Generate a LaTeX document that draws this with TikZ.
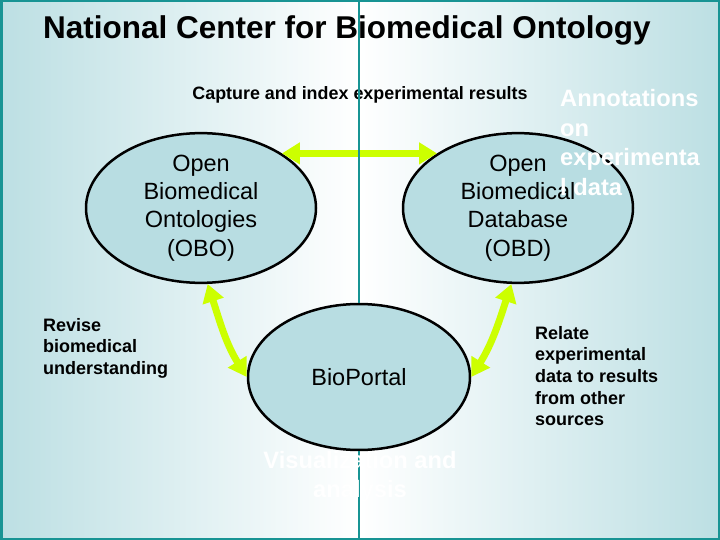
\documentclass[tikz,border=0pt]{standalone}
\usepackage{fontspec}
\setmainfont{Liberation Sans}
\usepackage{tikz}
\usetikzlibrary{shapes.geometric, arrows.meta, positioning}
\usepackage{xcolor}
\definecolor{bgteal}{RGB}{188,223,227}
\definecolor{frameteal}{RGB}{24,148,148}
\definecolor{ellfill}{RGB}{184,221,226}
\definecolor{arrowgreen}{RGB}{204,255,0}

\begin{document}
\begin{tikzpicture}[x=1pt,y=-1pt,
	bubble/.style={ellipse, draw=black, line width=2.5pt, fill=ellfill, minimum width=230pt, minimum height=146pt, align=center, inner sep=0pt, font=\fontsize{23.5}{28.2}\selectfont},
	link/.style={line width=7pt, draw=arrowgreen, {Triangle[width=21pt,length=18pt]}-{Triangle[width=21pt,length=18pt]}},
	note/.style={align=left, inner sep=0pt, font=\bfseries\fontsize{18}{21.6}\selectfont},
	hidden/.style={text=white, inner sep=0pt, font=\bfseries\fontsize{23.7}{29.7}\selectfont}]
				\useasboundingbox (0,0) rectangle (720,540);
				% background panels
				\shade[left color=bgteal, right color=white] (0,0) rectangle (359,540);
				\shade[left color=white, right color=bgteal] (359,0) rectangle (720,540);
				\draw[frameteal, line width=2.5pt] (1.25,1.25) rectangle (718.75,538.75);
				% texts
				\node[anchor=west, inner sep=0pt, font=\bfseries\fontsize{31.5}{36}\selectfont] (title) at (43,30) {National Center for Biomedical Ontology};
				\node[inner sep=0pt, font=\bfseries\fontsize{17.9}{21}\selectfont] (capture) at (360,95) {Capture and index experimental results};
				\node[note, anchor=west] (revise) at (43,348) {Revise\\biomedical\\understanding};
				\node[note, anchor=west] (relate) at (535,376) {Relate\\experimental\\data to results\\from other\\sources};
				% ellipses
				\node[bubble] (obo) at (201,208) {Open\\Biomedical\\Ontologies\\(OBO)};
				\node[bubble] (obd) at (518,208) {Open\\Biomedical\\Database\\(OBD)};
				\node[bubble, minimum width=222pt] (bio) at (359,377) {BioPortal};
				% arrows
				\draw[link] (obo.34) -- (obd.146);
				\draw[link] (obo.-85) to[out=-72, in=122] (bio.180);
				\draw[link] (obd.-95) to[out=-108, in=58] (bio.0);
				% divider
				\draw[frameteal, line width=2.5pt] (359,0) -- (bio.north);
				\draw[frameteal, line width=2.5pt] (bio.south) -- (359,540);
				% white labels
				\node[hidden, anchor=west, align=left] (annot) at (560,142.5) {Annotations\\on\\experimenta\\l data};
				\node[hidden, align=center] (visual) at (360,477) {Visualization and\\analysis};
			\end{tikzpicture}
\end{document}
